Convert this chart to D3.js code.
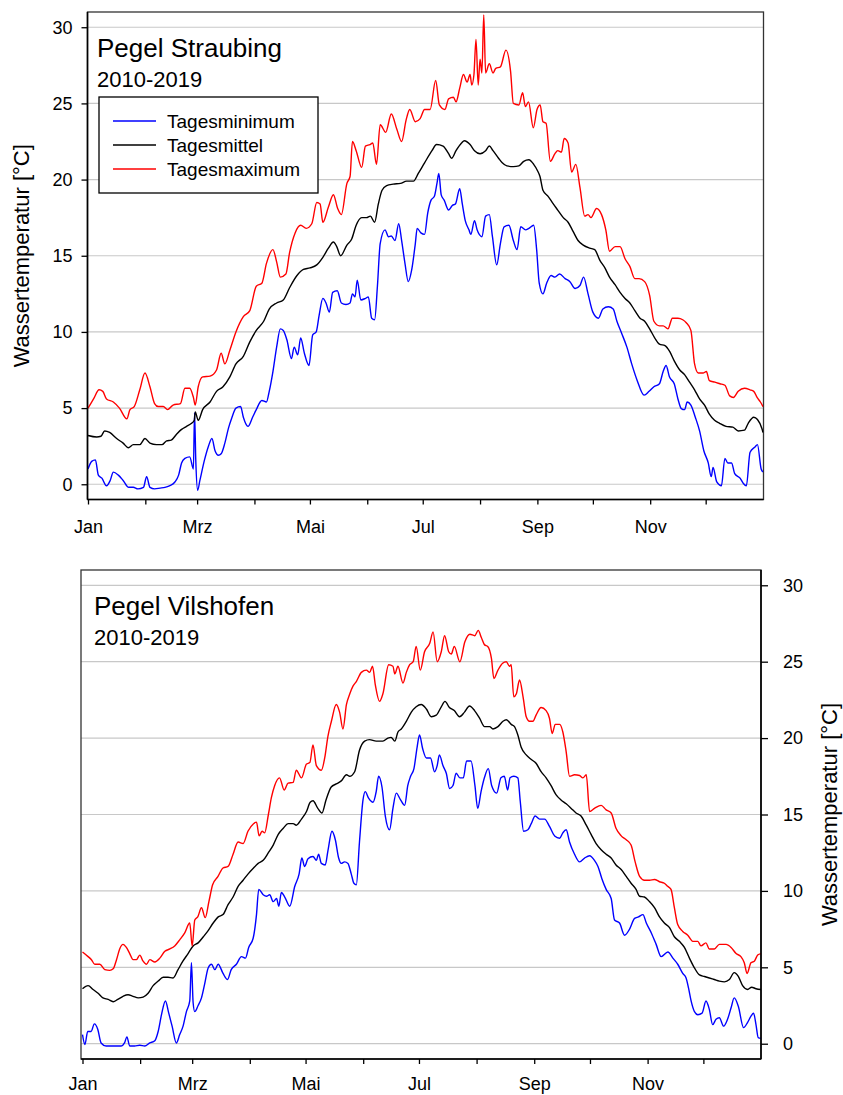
<!DOCTYPE html>
<html><head><meta charset="utf-8">
<script src="https://cdn.jsdelivr.net/npm/d3@7"></script>
<style>
body{margin:0;background:#fff;}
svg{display:block;font-family:"Liberation Sans",Arial,sans-serif;}
</style>
</head><body>
<svg id="c" width="843" height="1095"></svg>
<script>
// ---- axis data ----
const monthStarts = [0,31,59,90,120,151,181,212,243,273,304,334];
const monthLabels = ["Jan","","Mrz","","Mai","","Jul","","Sep","","Nov",""];
const yTicks = [0,5,10,15,20,25,30];
const seriesNames = ["Tagesminimum","Tagesmittel","Tagesmaximum"];
const seriesColors = ["#0000ff","#000000","#ff0000"];
const yLabel = "Wassertemperatur [°C]";
const subtitle = "2010-2019";

// ---- Pegel Straubing: [day of year, °C] ----
const strMin = [[0,1.0],[2,1.5],[4,1.6],[5.6,0.6],[7.5,0.4],[10,-0.1],[12,0.25],[13.7,0.8],[16.4,0.6],[19,0.25],[22,-0.2],[24.5,-0.2],[27,-0.3],[30,-0.2],[31.7,0.5],[33.5,-0.2],[36,-0.3],[39,-0.25],[41.6,-0.2],[44,-0.1],[47,0.15],[49,0.6],[50.6,1.4],[52.4,1.7],[55,1.8],[57,1.0],[57.6,4.7],[58.3,1.5],[59.3,-0.4],[60.5,0.25],[63,1.6],[65,2.45],[67,3.0],[68.7,2.2],[70.5,1.9],[72,2.0],[74,2.7],[76,3.7],[77.6,4.3],[80,5.0],[82.5,5.1],[84,4.4],[86.5,3.8],[89,4.4],[91,4.9],[94,5.5],[96.5,5.4],[98,6.1],[100,7.4],[102,9.0],[104,10.2],[105.6,10.1],[107.5,9.5],[110,8.25],[111.5,9.0],[113.4,8.5],[115,9.6],[117,8.6],[119.5,7.8],[121.5,9.8],[123.4,10.0],[125,11.1],[127,12.2],[128.7,11.9],[130.5,11.3],[132.3,12.6],[134.8,12.7],[137,11.9],[139.5,11.8],[141.7,11.9],[143,12.5],[144.4,12.3],[145.6,13.4],[147.5,12.1],[150,12.2],[151.6,12.3],[153.4,10.9],[155,10.8],[156.5,13.0],[158,15.8],[160.6,16.7],[162.5,16.25],[164,16.3],[166,16.0],[168,17.1],[169.6,16.0],[171.4,14.5],[173.2,13.3],[175,14.05],[177,15.8],[178,16.8],[180,16.5],[182,16.4],[183.7,17.8],[185.5,18.65],[187.3,18.9],[188.7,19.75],[189.7,20.4],[191,19.0],[192.6,18.65],[195,18.0],[197,18.3],[198.7,18.4],[201,19.4],[202.4,18.4],[204,17.3],[206,16.7],[207,16.4],[209,17.3],[210.4,16.7],[213,16.25],[215,17.6],[217,17.7],[218.7,16.25],[221,14.4],[223,15.8],[225,16.9],[227.6,17.0],[230,16.0],[232,15.4],[234,16.9],[236.6,16.7],[238.4,16.8],[241,17.0],[242.6,15.4],[244,13.2],[246,12.5],[248,13.2],[250.4,13.7],[252.5,13.6],[255,13.8],[258,13.5],[260.6,13.3],[263.4,12.85],[266,13.05],[268,13.6],[270.4,12.5],[273,11.3],[276,10.9],[278.4,11.5],[281.4,11.65],[284,11.5],[286,10.7],[288.6,9.9],[291.4,9.0],[294,7.9],[297,6.8],[300.7,5.85],[303.4,6.1],[306,6.4],[309,6.6],[311,7.4],[312.6,7.8],[314.4,7.05],[317,6.6],[319,5.6],[320.8,4.97],[322.6,4.9],[324,5.4],[326,5.2],[328.4,4.4],[330.7,3.5],[333,2.2],[335.4,1.4],[337,0.5],[338,1.1],[340,0.15],[342.5,-0.1],[344.4,1.7],[346,1.4],[348,1.4],[349.7,0.7],[352.6,0.4],[354.4,0.05],[356,-0.1],[358,2.1],[360.7,2.45],[362,2.6],[364,1.0],[365,0.8]];
const strMean = [[0,3.2],[4.7,3.1],[7,3.15],[9,3.5],[11.7,3.4],[15.5,3.0],[19,2.7],[21.8,2.4],[24.5,2.6],[28,2.6],[30.8,3.0],[33.5,2.7],[37,2.6],[40,2.6],[42.5,2.85],[45,2.9],[48,3.3],[50.6,3.6],[53.3,3.8],[56,4.0],[57.5,4.2],[58,4.75],[59.6,4.2],[62,4.9],[66,5.4],[69.5,6.1],[73,6.4],[76.7,7.05],[80,7.9],[84,8.4],[87.5,9.35],[91,10.1],[95,10.7],[98,11.5],[102,11.9],[105.6,12.1],[109,12.9],[113,13.7],[116.5,14.1],[120,14.2],[123.7,14.4],[127,14.9],[130,15.5],[132.7,15.9],[134.5,15.6],[136.6,15.0],[140,15.7],[142.6,16.1],[145,17.0],[148,17.5],[150.6,17.5],[152.7,17.6],[155,17.2],[157,18.4],[159,19.3],[161.5,19.6],[165,19.7],[169,19.75],[172.3,19.9],[176,19.9],[178.6,20.4],[182,21.1],[186,21.9],[188.5,22.3],[192,22.2],[195,21.7],[196.6,21.4],[199,21.9],[202,22.4],[203.5,22.55],[206.6,22.3],[209,21.9],[212,21.7],[215,21.9],[217,22.2],[219,21.9],[222,21.4],[224,21.1],[226.5,20.9],[230,20.85],[233,20.9],[235.6,21.2],[238.4,21.3],[241,21.0],[243,20.6],[244.4,20.2],[246,19.3],[248.8,18.9],[251.6,18.4],[254,18.0],[257,17.5],[259.6,17.2],[262.3,16.6],[265,16.0],[267.8,15.7],[271.3,15.5],[274,15.4],[276.8,14.7],[279.5,14.2],[282,13.6],[285,13.1],[287.7,12.6],[290.4,12.2],[293,11.9],[295.7,11.4],[298.5,10.9],[301,10.7],[303.7,10.2],[306.5,9.6],[309,9.2],[312,9.1],[314.6,8.7],[317,8.1],[320,7.5],[322.6,7.2],[325.3,6.7],[328,6.2],[330.7,5.6],[333.4,5.2],[336,4.6],[338.8,4.2],[341.5,4.0],[345,3.8],[348.7,3.75],[351.6,3.5],[355,3.55],[357,4.0],[360,4.4],[362,4.25],[364.4,3.66],[365,3.4]];
const strMax = [[0,5.0],[3,5.6],[6,6.2],[8,6.1],[10,5.6],[13.7,5.4],[17,5.0],[21,4.3],[22.7,4.9],[25,5.1],[28,6.2],[30.8,7.3],[33.5,6.4],[36,5.3],[38,5.1],[40.7,5.1],[43,4.9],[46,5.2],[50,5.3],[52.4,6.3],[55,6.3],[57,5.7],[58,5.2],[59.6,6.4],[62,7.05],[66,7.1],[69.5,7.5],[72,8.6],[74,7.9],[76.7,8.8],[80,10.0],[84,11.0],[87.5,11.4],[91,13.0],[94,13.2],[96.5,14.5],[100,15.4],[102,14.6],[104,13.6],[107,13.8],[109,15.2],[112,16.5],[115,17.0],[118,16.8],[121,17.1],[123.7,18.5],[125.5,18.4],[127,17.2],[130,18.2],[132.7,19.0],[135,18.1],[137,17.7],[140,19.75],[141.7,20.2],[143,22.5],[145,21.9],[148,20.8],[150,22.2],[152.5,22.3],[154,22.4],[156,21.0],[158,23.6],[161,23.1],[164,24.3],[167,23.3],[169.6,22.5],[172,23.9],[174,24.6],[177,23.8],[179.6,24.0],[182,24.6],[185,24.6],[188,26.5],[190,24.9],[193,24.6],[195,25.3],[197.6,25.4],[199,25.1],[201,26.0],[203,26.9],[205,26.4],[206.6,26.9],[207.5,26.2],[208.7,26.9],[209.8,29.2],[211,26.2],[212,27.9],[213,27.0],[214,30.8],[215,27.0],[217,27.6],[219,27.0],[220.5,27.3],[223,27.4],[226,28.5],[228.5,27.1],[230,25.0],[233,24.9],[235,25.7],[236.5,24.8],[238.2,25.1],[240.8,23.4],[242.8,24.6],[244.5,24.9],[246,23.8],[247.7,23.7],[250,21.2],[252.5,21.7],[254,21.9],[256,21.8],[257.5,22.7],[259.6,22.4],[261.5,20.5],[263.8,21.0],[266,19.5],[268.6,17.6],[270.4,17.7],[272,17.5],[275,18.1],[277.7,17.7],[280,16.7],[282,15.3],[285,15.6],[287.7,15.6],[290.4,14.8],[293,14.3],[295.7,13.5],[298,13.5],[301,13.3],[303.7,12.4],[306,10.7],[309,10.4],[311,10.4],[313.6,10.2],[316,10.9],[319,10.9],[321.6,10.8],[323.5,10.6],[326,10.1],[328,7.9],[330,7.3],[332.6,7.3],[334.4,7.4],[336,6.8],[339,6.7],[341.7,6.6],[344.4,6.5],[347,5.8],[349,5.7],[351.6,6.1],[355,6.3],[358,6.2],[360,6.1],[361.8,5.7],[363.6,5.4],[365,5.1]];

// ---- Pegel Vilshofen: [day of year, °C] ----
const vilMin = [[0,0.6],[1.3,-0.05],[2.8,0.8],[4.6,0.8],[6.4,1.3],[8.2,0.95],[10,0.05],[12.7,-0.15],[15.3,-0.15],[18,-0.15],[20.8,-0.15],[22.6,0.05],[23.9,0.45],[25.4,-0.15],[28,-0.15],[30.8,-0.1],[33.5,-0.15],[36.2,0.05],[38.9,0.2],[40.7,0.8],[42.5,1.9],[44.6,2.8],[46.4,2.0],[48.2,1.15],[50.5,0.05],[52.3,0.6],[54.1,1.15],[55.9,2.1],[57.7,2.8],[58.6,5.3],[59.5,2.7],[60.4,2.1],[62.2,2.5],[64,3.0],[65.7,3.9],[67.6,4.96],[69.4,5.2],[71.2,4.85],[73,5.2],[75.6,4.6],[78,4.2],[80,4.85],[82.8,5.2],[85.5,5.7],[87.7,5.6],[89.4,6.3],[91.8,6.9],[93.6,8.45],[94.8,10.1],[97.2,9.75],[99,9.65],[100.7,9.75],[102.6,9.3],[104.4,9.5],[105.6,9.0],[107,9.9],[108.8,9.6],[111.5,9.0],[114.2,10.3],[116.5,11.1],[118,12.15],[119.5,11.6],[121.3,12.1],[124,12.25],[125.8,12.0],[127,12.4],[128.5,11.8],[130.6,11.7],[132,12.6],[134.2,13.9],[136,13.35],[137.8,12.15],[139.2,11.8],[141,11.9],[142.8,11.8],[144.6,11.1],[146,10.5],[147.3,10.4],[149,13.2],[150.9,15.96],[152.1,16.5],[153.9,16.07],[156.3,15.8],[158,16.5],[159.3,17.5],[161.1,16.8],[162.9,14.9],[165.2,14.0],[167,15.4],[168.8,16.4],[171.1,15.96],[173.3,15.6],[175,16.9],[176.5,17.5],[178.3,18.0],[180,19.4],[181.3,20.2],[183,19.3],[185,18.7],[187.2,18.7],[189.4,17.8],[190.8,18.2],[192,18.9],[193.9,18.2],[195.7,17.7],[197.5,16.7],[199.3,16.9],[201,17.7],[203,17.4],[204.9,17.4],[206.6,18.5],[209,18.5],[211.1,16.9],[212.6,15.4],[214.4,16.5],[216.2,17.4],[218.3,18.0],[220.1,16.9],[222.8,16.4],[225.1,17.4],[226.9,17.5],[228.7,16.6],[230,17.4],[232,17.5],[234.2,17.4],[235.5,15.85],[237.3,13.9],[239.6,14.0],[241.4,14.4],[243.5,14.9],[245.9,14.7],[248.6,14.7],[251.3,14.2],[254,13.6],[256.7,13.45],[258.4,13.8],[260.2,14.0],[262,13.2],[264.7,12.4],[267.4,11.9],[270.1,12.15],[272.8,12.3],[275.4,12.0],[277.3,11.6],[279.4,10.8],[281.7,10.1],[284.4,9.5],[286.2,8.1],[288.9,7.9],[291.6,7.1],[294.3,7.5],[297,8.2],[299.1,8.3],[301.5,8.45],[303.3,7.9],[306,7.25],[308.6,6.5],[311.3,5.7],[314.9,6.0],[317.6,5.6],[320.2,5.2],[322.9,4.6],[324.7,4.3],[326,3.65],[327.4,2.8],[329.2,2.1],[331,1.9],[333.3,2.0],[335.4,2.8],[337.2,2.25],[339,1.25],[340.8,1.6],[342.6,1.7],[344.9,1.15],[347,1.6],[348.9,2.35],[350.6,3.0],[352.8,2.45],[355.6,1.05],[357.8,1.4],[359.6,1.8],[361,2.0],[362.3,1.25],[363.5,0.4],[365,0.35]];
const vilMean = [[0,3.6],[3,3.8],[5.7,3.55],[8.4,3.3],[11,3.0],[13.8,2.9],[16.5,2.75],[19,2.9],[21.8,3.1],[24.5,3.2],[27.2,3.1],[30,3.0],[32.6,3.05],[35.3,3.3],[38,3.8],[40.7,4.1],[43.4,4.35],[46,4.35],[48.7,4.3],[51.4,4.85],[54,5.4],[56.8,5.9],[59.5,6.4],[62.2,6.6],[65,7.0],[67.6,7.4],[70.3,7.9],[73,8.3],[75.6,8.45],[78.3,9.1],[81,9.6],[83.7,10.3],[86.4,10.7],[89,11.1],[92,11.5],[94.5,11.8],[97.2,12.0],[100,12.5],[102.6,13.0],[105.3,13.7],[108,14.1],[110.6,14.4],[113.3,14.4],[115,14.3],[117.8,14.7],[120.5,15.2],[122.5,15.8],[124,15.9],[126.6,15.4],[128.8,15.1],[131,15.95],[133.8,16.8],[136.5,17.0],[139.2,17.2],[142,17.6],[143.7,17.5],[146.4,17.8],[149,19.2],[151.8,19.8],[154.4,19.9],[158,19.8],[161.6,19.8],[164.3,20.0],[166,20.05],[168,19.8],[169.7,20.4],[171.5,20.6],[174.2,21.1],[176.9,21.7],[179.5,22.05],[182.2,22.2],[185,21.9],[187.6,21.4],[190.3,21.5],[193,22.05],[195,22.4],[197.4,22.0],[200,21.8],[202.8,21.4],[205.5,21.7],[208.2,22.1],[210.9,21.8],[213.6,21.3],[216.3,20.75],[219,20.75],[220.8,20.6],[223.5,20.75],[226.2,21.1],[228,21.2],[230.6,20.9],[232.4,20.75],[234.2,20.2],[236,19.4],[238.7,18.9],[241.4,18.6],[244,18.35],[246.7,17.8],[249.4,17.4],[252,16.9],[254.7,16.3],[257.4,15.95],[260.2,15.7],[262.9,15.4],[265.5,15.1],[268.2,14.9],[271,14.3],[273.6,13.7],[276.3,13.1],[279,12.7],[281.7,12.4],[284.4,12.15],[287,11.7],[289.8,11.4],[292.5,10.95],[295.1,10.5],[297.8,10.1],[299.7,9.65],[302.3,9.6],[305,9.3],[307.7,8.9],[310.4,8.3],[313,7.9],[315.8,7.6],[318.4,7.0],[321.1,6.7],[323.8,6.3],[326.5,5.6],[329.2,4.96],[331.9,4.5],[334.6,4.4],[337.2,4.3],[339.9,4.2],[342.6,4.1],[345.3,4.05],[348,4.2],[350.6,4.65],[352.8,4.4],[355.1,3.8],[357.8,3.55],[360,3.7],[362.3,3.6],[365,3.55]];
const vilMax = [[0,6.0],[3,5.7],[4.8,5.5],[6.6,5.2],[9.3,5.2],[12,4.85],[14.7,4.8],[16.5,4.9],[18.3,5.5],[20,6.2],[21.8,6.5],[23.6,6.3],[25.4,5.9],[27.2,5.5],[29,5.5],[30.8,5.8],[32.6,5.4],[34.4,5.2],[36.2,5.5],[38.9,5.35],[41.6,5.6],[44.3,6.05],[47,6.2],[49.6,6.4],[52.3,6.8],[55,7.25],[57.7,7.9],[59,6.4],[60.4,8.1],[62,8.3],[64,8.9],[66,8.25],[68,9.3],[70,10.4],[72.9,10.95],[75.6,11.5],[78.3,11.6],[81,12.4],[83.7,13.2],[86.4,13.1],[89,13.9],[92,14.4],[93.6,14.5],[95,13.6],[96.6,13.9],[98,13.8],[100,15.0],[101.6,16.1],[103.4,16.9],[106,17.4],[108.5,16.6],[110.6,17.05],[113.3,17.1],[115,17.9],[117.8,17.4],[120.5,18.3],[122.3,18.4],[124,19.55],[125.8,18.2],[128.5,17.9],[130.3,18.7],[132,20.1],[133.9,21.1],[136.5,22.2],[138.3,21.7],[140.1,20.6],[142,22.2],[143.8,22.9],[145.5,23.4],[147.3,23.7],[150,24.3],[152.7,24.45],[154.5,24.3],[156,24.7],[157.5,23.5],[159.8,22.4],[161.6,22.9],[164.7,24.8],[167,24.7],[168,24.2],[169.7,24.7],[172.4,23.6],[174.2,24.3],[176,24.8],[177.9,25.0],[179.5,26.0],[181.7,24.45],[184,25.65],[186.8,26.2],[188.6,26.95],[190.8,25.0],[193,25.65],[194.8,26.7],[197,25.65],[198.4,25.5],[200,26.0],[203,25.0],[205.7,26.3],[208.4,26.8],[211,26.7],[212.9,27.05],[214.5,26.6],[216.3,26.1],[218,26.0],[220,25.2],[221.3,23.9],[223.5,24.45],[226,24.9],[228,25.0],[229.7,24.7],[230.6,24.8],[232,22.7],[233.4,22.9],[235.1,23.8],[237,22.7],[238.7,21.4],[240.5,21.1],[242.3,21.1],[244,21.5],[246.7,22.0],[249.4,21.8],[251.2,21.3],[252.7,20.3],[254.3,20.9],[256.7,20.9],[258.4,20.4],[260.2,19.1],[262,17.5],[264.7,17.6],[267.4,17.55],[269.2,17.4],[271,17.6],[272.8,15.2],[275.4,15.4],[279,15.6],[281.7,15.3],[284.4,15.1],[287,14.1],[289.8,13.6],[292.5,13.35],[295.1,13.0],[297.3,11.9],[299.7,10.95],[302.3,10.7],[305,10.7],[307.7,10.75],[310.4,10.6],[313,10.5],[314.8,10.3],[316.6,10.1],[318.4,8.9],[320.2,7.8],[322.9,7.35],[325.6,7.1],[328.3,6.7],[331,6.7],[332.7,6.4],[335.4,6.6],[337.2,6.2],[339.9,6.2],[342.6,6.5],[346.2,6.5],[348.9,6.3],[351.6,5.9],[354.2,5.7],[356,5.3],[357.5,4.6],[359.6,5.3],[361.4,5.4],[363.2,5.8],[365,5.9]];

// ---- drawing ----
const svg = d3.select("#c");
const FONT = "18px";

const panels = [
  {id:"p1", title:"Pegel Straubing", series:[strMin,strMean,strMax], left:87.5, right:763.5,
   x0:88, x1:763, top:12, bottom:499.5, axisSide:"left", legend:true, xPad:16,
   titleX:97, titleY:57, subY:87, labelX:29},
  {id:"p2", title:"Pegel Vilshofen", series:[vilMin,vilMean,vilMax], left:81, right:761,
   x0:82.5, x1:761, top:570, bottom:1059, axisSide:"right", legend:false, xPad:13,
   titleX:94, titleY:615, subY:645, labelX:837}
];

panels.forEach(p => {
  const x = d3.scaleLinear().domain([0,365]).range([p.x0,p.x1]);
  const y = d3.scaleLinear().domain([-1,31]).range([p.bottom,p.top]);
  const g = svg.append("g");

  g.append("clipPath").attr("id","clip-"+p.id).append("rect")
    .attr("x",p.left).attr("y",p.top).attr("width",p.right-p.left).attr("height",p.bottom-p.top);

  // gridlines
  g.append("g").selectAll("line").data(yTicks).join("line")
    .attr("x1",p.left).attr("x2",p.right)
    .attr("y1",d=>y(d)).attr("y2",d=>y(d))
    .attr("stroke","#c8c8c8").attr("stroke-width",1.2);

  // frame
  g.append("rect").attr("x",p.left).attr("y",p.top)
    .attr("width",p.right-p.left).attr("height",p.bottom-p.top)
    .attr("fill","none").attr("stroke","#333").attr("stroke-width",1.3);

  // lines
  const line = d3.line().x(d=>x(d[0])).y(d=>y(d[1])).curve(d3.curveMonotoneX);
  const lg = g.append("g").attr("clip-path","url(#clip-"+p.id+")");
  p.series.forEach((s,i) => {
    lg.append("path").datum(s).attr("d",line)
      .attr("fill","none").attr("stroke",seriesColors[i])
      .attr("stroke-width",1.4).attr("stroke-linejoin","round");
  });

  // x axis
  const xa = g.append("g").attr("transform",`translate(0,${p.bottom})`)
    .call(d3.axisBottom(x).tickValues(monthStarts)
      .tickFormat((d,i)=>monthLabels[i]).tickSize(5).tickSizeOuter(0).tickPadding(p.xPad));
  xa.select(".domain").attr("d",`M${p.left},0H${p.right}`).attr("stroke","#000").attr("stroke-width",1.6);
  xa.selectAll(".tick line").attr("stroke","#000").attr("stroke-width",1.3);
  xa.selectAll("text").attr("font-size",FONT).attr("font-family","Liberation Sans, Arial, sans-serif").attr("fill","#000");

  // y axis
  let ya;
  if (p.axisSide === "left") {
    ya = g.append("g").attr("transform",`translate(${p.left},0)`)
      .call(d3.axisLeft(y).tickValues(yTicks).tickSize(6).tickSizeOuter(0).tickPadding(9));
  } else {
    ya = g.append("g").attr("transform",`translate(${p.right},0)`)
      .call(d3.axisRight(y).tickValues(yTicks).tickSize(7).tickSizeOuter(0).tickPadding(15));
  }
  ya.select(".domain").attr("d",`M0,${p.top}V${p.bottom}`).attr("stroke","#000").attr("stroke-width",1.6);
  ya.selectAll(".tick line").attr("stroke","#000").attr("stroke-width",1.3);
  ya.selectAll("text").attr("font-size",FONT).attr("font-family","Liberation Sans, Arial, sans-serif").attr("fill","#000");

  // axis title
  const cy = (p.top+p.bottom)/2;
  g.append("text").attr("transform",`translate(${p.labelX},${cy}) rotate(-90)`)
    .attr("text-anchor","middle").attr("font-size","22px").attr("fill","#000").text(yLabel);

  // panel title
  g.append("text").attr("x",p.titleX).attr("y",p.titleY).attr("font-size","26px").attr("fill","#000").text(p.title);
  g.append("text").attr("x",p.titleX).attr("y",p.subY).attr("font-size","22px").attr("fill","#000").text(subtitle);

  // legend
  if (p.legend) {
    const L = g.append("g");
    L.append("rect").attr("x",99).attr("y",97).attr("width",219).attr("height",96)
      .attr("fill","#fff").attr("stroke","#000").attr("stroke-width",1.3);
    seriesNames.forEach((n,i) => {
      const yy = 121 + i*24;
      L.append("line").attr("x1",113).attr("x2",156).attr("y1",yy).attr("y2",yy)
        .attr("stroke",seriesColors[i]).attr("stroke-width",1.4);
      L.append("text").attr("x",167).attr("y",yy+7).attr("font-size","19px").attr("fill","#000").text(n);
    });
  }
});
</script>
</body></html>
